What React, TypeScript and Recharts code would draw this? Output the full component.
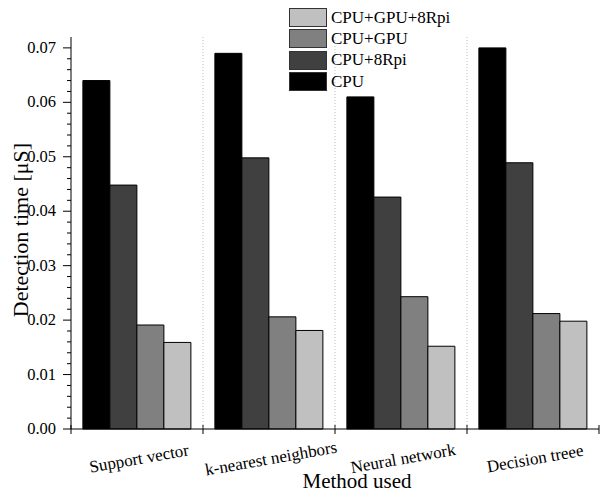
import React from "react";
import { BarChart, Bar, XAxis, YAxis, Label } from "recharts";

const methods = ["Support vector", "k-nearest neighbors", "Neural network", "Decision treee"];
const cpu = [0.064, 0.069, 0.061, 0.07];
const cpu8Rpi = [0.0448, 0.0498, 0.0426, 0.0489];
const cpuGpu = [0.0191, 0.0206, 0.0243, 0.0212];
const cpuGpu8Rpi = [0.0159, 0.0181, 0.0152, 0.0198];

const seriesNames = ["CPU", "CPU+8Rpi", "CPU+GPU", "CPU+GPU+8Rpi"];
const seriesColors = ["#000000", "#404040", "#808080", "#c0c0c0"];
const seriesValues = [cpu, cpu8Rpi, cpuGpu, cpuGpu8Rpi];

const yTicks = [
  0, 0.002, 0.004, 0.006, 0.008, 0.01, 0.012, 0.014, 0.016, 0.018, 0.02, 0.022, 0.024,
  0.026, 0.028, 0.03, 0.032, 0.034, 0.036, 0.038, 0.04, 0.042, 0.044, 0.046, 0.048,
  0.05, 0.052, 0.054, 0.056, 0.058, 0.06, 0.062, 0.064, 0.066, 0.068, 0.07,
];

const data = methods.map((name, i) => {
  const row: Record<string, string | number> = { name };
  seriesNames.forEach((s, j) => {
    row[s] = seriesValues[j][i];
  });
  return row;
});

const FONT = "Times New Roman, Times, Liberation Serif, Nimbus Roman, DejaVu Serif, serif";
const PLOT_TOP = 37;

const YTick = (props: any) => {
  const { x, y, payload } = props;
  const v = payload.value as number;
  const major = Math.abs(v * 100 - Math.round(v * 100)) < 1e-6;
  return (
    <g>
      <line x1={x - (major ? 8 : 4)} x2={x} y1={y} y2={y} stroke="#000" strokeWidth={1} />
      {major && (
        <text x={x - 15} y={y} dy={5} textAnchor="end" fontSize={16.5} style={{ fontFamily: FONT }} fill="#000">
          {v.toFixed(2)}
        </text>
      )}
    </g>
  );
};

const XTick = (props: any) => {
  const { x, y, payload, index } = props;
  const half = payload.offset > 0 ? payload.offset : 66;
  const left = x - half;
  const right = x + half;
  return (
    <g>
      <line x1={left} x2={left} y1={y - 4} y2={y + 5} stroke="#000" strokeWidth={1} />
      {index > 0 && (
        <line x1={left} x2={left} y1={PLOT_TOP} y2={y - 1} stroke="#bbb" strokeWidth={1} strokeDasharray="1 2" />
      )}
      {index === methods.length - 1 && (
        <line x1={right} x2={right} y1={y - 4} y2={y + 5} stroke="#000" strokeWidth={1} />
      )}
      <text
        x={x + 3}
        y={y + 35}
        textAnchor="middle"
        fontSize={17}
        style={{ fontFamily: FONT }}
        fill="#000"
        transform={`rotate(-10 ${x + 3} ${y + 35})`}
      >
        {payload.value}
      </text>
    </g>
  );
};

export default function App() {
  return (
    <div style={{ position: "absolute", left: 0, top: 0, width: 600, height: 493, background: "#fff", fontFamily: FONT }}>
      <BarChart
        width={600}
        height={493}
        data={data}
        margin={{ top: PLOT_TOP, right: 1, bottom: 0, left: 0 }}
        barCategoryGap="9%"
        barGap={0}
      >
        <XAxis
          dataKey="name"
          height={64}
          tickLine={false}
          tickSize={0}
          tickMargin={0}
          axisLine={{ stroke: "#000" }}
          interval={0}
          tick={<XTick />}
        >
          <Label
            content={() => (
              <text x={357} y={488} textAnchor="middle" fontSize={21} style={{ fontFamily: FONT }} fill="#000">
                Method used
              </text>
            )}
          />
        </XAxis>
        <YAxis
          type="number"
          width={71}
          domain={[0, 0.072]}
          ticks={yTicks}
          interval={0}
          tickLine={false}
          tickSize={0}
          tickMargin={0}
          axisLine={{ stroke: "#000" }}
          tick={<YTick />}
        >
          <Label
            content={() => (
              <text
                x={28}
                y={230}
                textAnchor="middle"
                fontSize={22}
                style={{ fontFamily: FONT }}
                fill="#000"
                transform="rotate(-90 28 230)"
              >
                Detection time [μS]
              </text>
            )}
          />
        </YAxis>
        {seriesNames.map((s, j) => (
          <Bar key={s} dataKey={s} fill={seriesColors[j]} stroke="#000" strokeWidth={1} isAnimationActive={false} />
        ))}
      </BarChart>
      <div style={{ position: "absolute", left: 289, top: 7, fontSize: 17, color: "#000" }}>
        {seriesNames
          .map((s, j) => ({ s, c: seriesColors[j] }))
          .reverse()
          .map(({ s, c }) => (
            <div key={s} style={{ display: "flex", alignItems: "center", height: 21.3 }}>
              <div
                style={{
                  width: 36,
                  height: 17,
                  background: c,
                  border: "1px solid #333",
                  marginRight: 4,
                }}
              />
              <span>{s}</span>
            </div>
          ))}
      </div>
    </div>
  );
}
